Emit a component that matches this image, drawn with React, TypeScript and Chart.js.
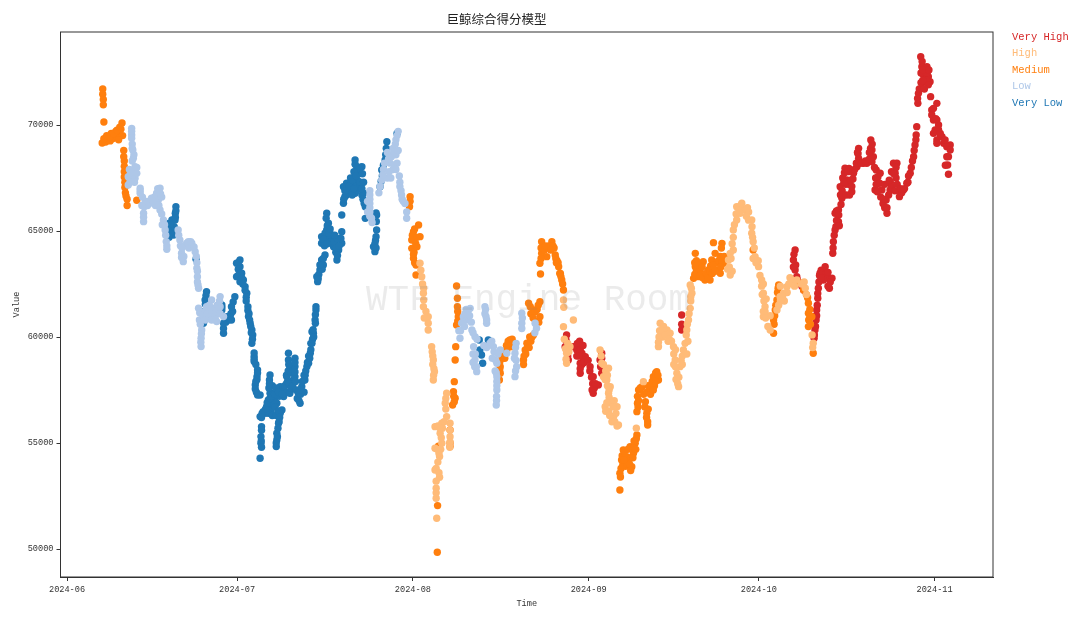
import React, { useEffect, useRef } from "react";
import { Chart, registerables } from "chart.js";

Chart.register(...registerables);

type P = [number, number];

// x = days since 2024-06-01, y = value
const monthTicks = [0, 30, 61, 92, 122, 153];
const monthLabels = ["2024-06", "2024-07", "2024-08", "2024-09", "2024-10", "2024-11"];
const valueTicks = [50000, 55000, 60000, 65000, 70000];
const legendNames = ["Very High", "High", "Medium", "Low", "Very Low"];
const chartTitle = "巨鲸综合得分模型";
const watermark = "WTF Engine Room";

const veryLow: P[] = [
  [19.2,66150],[19.1,65835],[19.05,65520],[18.5,65520],[17.9,65360],[17.6,65050],[18.5,65050],[18.8,64813],[18.2,64890],
  [18,64700],[18.9,65200],[19.1,65650],[18.2,65300],[19.2,65950],[17.8,65050],
  [22.75,63665],[24.6,62140],[24.35,61750],[24.05,60960],[24.05,60650],[27.3,61510],[27.3,61275],
  [24.5,61950],[24.4,61550],[24.2,61200],[24.1,60800],[27.3,61400],[28,60700],[27.6,60400],[28.9,61100],[29.3,61650],[29.2,61200],[28.5,60800],
  [28.75,60960],[28.2,60962],[27.6,60650],[27.6,60175],[29,60800],[29,61430],[29.6,61900],
  [30.5,63634],[29.9,63477],[30.5,63320],[29.9,62848],[30.8,63005],[31.1,62690],[30.5,62612],[31.4,62376],[31.7,62062],[31.6,61873],
  [30.2,63500],[30.2,63200],[30.5,63000],[30.2,62900],[30.8,62800],[31,62500],[31.4,62200],[31.6,61700],
  [31.9,61433],[32,60962],[32.3,60647],[32.6,60333],[32.75,60097],[32.6,59704],
  [31.9,61250],[32.1,61100],[32.2,60800],[32.4,60500],[32.5,60200],[32.7,59900],
  [33,59075],[33,58839],[33.6,58446],[33.5,58132],[33.2,57739],[33.6,57267],[34.05,57267],
  [33,59250],[33,58950],[33.3,58700],[33.6,58300],[33.5,58000],[33.3,57900],[33.2,57550],[33.4,57400],
  [34.05,56245],[34.6,56481],[35.2,56717],[35.5,57032],[35.8,57346],[35.7,57975],[35.8,58210],[36.4,57346],[37,57503],[37.6,57660],[38.2,57189],
  [37,56874],[36.4,56717],[34.9,56403],[37.9,56560],[37.6,56403],[37.3,55931],[37,55460],[37,55145],[36.9,54830],[34.3,55774],[34.2,55302],[34.2,54988],[34.05,54280],
  [36,56900],[36,56500],[36.6,57000],[37.4,57200],[35.5,56400],[38,57500],[38.7,57400],[36.2,57700],
  [34.4,56400],[34.3,56200],[35,56600],[35.3,56900],[35.8,57100],[35.6,57600],[35.7,57800],[36.1,57200],[36.6,57300],[36.8,57600],[37.3,57400],[37.9,57300],[36.7,56700],[36.2,56300],[36.9,56300],[37.3,56500],[37.5,56200],[37.4,56000],[37.2,55700],[37.1,55300],[36.9,55000],[34.3,55600],[34.25,55100],[34.3,54800],
  [38.75,57817],[38.75,58132],[39.05,59232],[39.05,58918],[39.3,58525],[40.2,58996],[40.2,58604],[40.2,58132],[39.3,57346],[39.9,57975],
  [38.4,57700],[38.9,57900],[38.7,58200],[39.2,57800],[39.5,57600],[39.8,57700],[39,58400],[39.1,58700],[39.6,58300],[40.2,58800],[40.2,58350],[40.3,57900],[40.4,57500],
  [41.1,56874],[40.8,57346],[41.4,57660],[41.95,57975],[42.3,58604],[42.6,58760],[42.9,59232],[43.2,59704],[43.45,60175],[43.2,60254],[43.75,60804],[43.9,61276],[43.9,61433],
  [40.6,57100],[41.2,57300],[41.8,57400],[42,58200],[42.6,59100],[43,59700],
  [40.9,57000],[41,57500],[41.5,57900],[41.8,58200],[42.1,58400],[42.4,58800],[42.8,59000],[43,59400],[43.3,59900],[43.5,60000],[43.4,60350],[43.8,61050],[43.8,60650],
  [44.2,62612],[44.05,62848],[44.6,63162],[44.9,63634],[45.5,63870],[45.2,63400],[44.4,62950],[44.3,62750],[44.8,63350],[45,63200],[44.6,63400],[45.2,63700],
  [45.8,65835],[46.1,65363],[45.8,65050],[44.9,64734],[44.9,64420],[45.8,64577],[46.7,64734],[47.3,64420],[47.6,63634],[47.9,64105],[48.45,64420],[48.45,64970],[46.4,64890],[47,64263],[46,64800],[47.4,64000],[48.45,65756],[46.5,64450],
  [45.7,65600],[45.9,65250],[45.5,64900],[45.2,64600],[45.4,64300],[46.2,64900],[46.6,64500],[47.1,64500],[47.5,64200],[47.7,63850],[48,64300],[48.3,64650],[46.4,65100],[45.9,64400],[47.7,64650],[47.2,64800],
  [50.8,68350],[51.1,68035],[50.8,67643],[51.7,67722],[52,67250],[52.3,66778],[50.5,67407],[49.3,67250],[48.75,67092],[49,66621],[49.9,66778],[50.8,66778],[51.4,67092],[48.75,66306],[52,68035],[52.6,66149],[52.6,65596],[49.9,67171],
  [50,67500],[49.5,66900],[50.4,67000],[51.2,67400],[51.6,67000],[52,66700],[51.7,68000],[51,66900],
  [50.8,68150],[51.5,67900],[50.6,67800],[51,67600],[50.2,67300],[49.7,67100],[49.3,66700],[49,66900],[50.3,66700],[51,67100],[51.7,67300],[52,67000],[52.2,66500],[52.4,66300],[48.8,66500],[52.1,67700],[52.3,67300],[50.6,67000],
  [54.6,65756],[54.6,65050],[54.5,64734],[54.05,64263],[54.3,64027],[56.4,69215],[56.1,68350],[55.5,67878],[55.2,67092],[58.2,69600],
  [54.55,65450],[54.5,65850],[54.4,64550],[54.3,64400],[54.5,64200],[56.3,68900],[56.2,68600],[55.8,68100],[55.6,67600],[55.4,67350],
  [72.7,59860],[74.3,59860],[72.8,59388],[73.3,58760],[73.1,59153],
];

const low: P[] = [
  [11.4,69843],[11.4,69530],[11.6,68822],[11.7,68430],[12,68036],[11.4,67800],[12.3,67720],[10.8,67564],[10.8,67170],[12,67485],[11.5,68300],[11.5,67500],[11,67900],
  [11.4,69700],[11.4,69380],[11.5,69100],[11.5,68900],[11.2,67700],[11.8,67800],[11.3,67400],[11.9,67300],[11.1,67300],[12.3,68000],[11.8,68600],
  [12.9,67014],[12.9,66778],[13.8,66385],[13.5,65835],[13.5,65442],[14.6,66306],[15.8,66778],[16.4,67014],[16.1,66464],[16.4,65992],[17,65520],[17.3,65050],[17.5,64500],[17.6,64137],
  [12.9,66900],[13.3,66600],[13.6,66150],[13.5,65650],[14.1,66400],[14.9,66550],[15.4,66600],[16,67000],[16.5,66750],[15.6,66200],[16.2,66200],[16.7,65800],[16.8,65300],[17.2,65300],[17.4,64800],[17.6,64300],
  [14.2,66200],[15.2,66400],[13.2,66200],[16.7,66600],[19.6,65050],[19.9,64577],[20.2,63948],[20.5,63555],[21.1,64420],[22,64420],[22.6,64027],[22.9,63241],[23,62848],[23.2,62298],[20.6,64300],[21.5,64200],
  [19.7,64800],[20,64300],[20.3,64200],[20.6,63800],[20.2,63750],[21.4,64500],[21.8,64500],[22.4,64250],[22.8,63800],[22.9,63500],[23,63100],[23,62600],[23.1,62450],
  [23.2,61354],[23.35,60804],[23.75,60333],[23.64,59940],[23.64,59547],[24.6,61433],[25.5,61748],[25.2,61276],[26.1,60962],[26.4,60726],[27,61905],[27,61433],[25.8,61354],[27.6,60962],[24,61000],[25,60900],[26.5,61500],
  [23.4,61150],[23.5,60600],[23.7,60150],[23.6,59750],[24.3,61200],[24.7,61100],[25.1,61500],[25.6,61200],[25.9,61000],[26.3,61200],[26.7,61300],[26.9,61700],[27,61100],[24.4,60800],[25.5,60800],[26.2,60800],
  [53.4,66900],[53.4,66500],[53.4,66100],[53.4,65700],[53.8,65400],[53,65900],[53,66400],[55,66800],[55.5,67400],[55.8,67900],[56.5,68700],[57,68200],[57.5,67900],[56.5,67500],[58,68600],[57.5,68900],[58,69300],[58.4,69700],[58.2,68200],[58.7,67300],[58.9,66900],[59.1,66500],[59.6,66300],[59.9,65900],[59.9,65600],
  [53.4,66700],[53.4,66300],[53.4,65900],[53.7,65600],[55.2,67100],[55.7,67650],[56,68200],[56.7,68400],[57.2,68500],[57.8,68100],[57.7,68700],[56.8,67800],[57.1,67500],[57.9,69100],[58.2,69500],[58.4,68800],[58,67900],[58.6,67600],[58.7,67100],[59,66700],[59.3,66400],
  [69.3,59940],[69.6,60646],[69.9,60960],[71.1,61353],[70.5,60803],[71.4,60332],[71.95,60017],[73.7,61432],[73.9,60960],[74,60646],[71.7,59545],[71.95,58917],[72.25,58367],[75.2,59545],[75.8,58760],[75.8,58131],[75.8,57502],[75.7,56795],
  [69.1,60300],[69.4,60300],[69.8,60700],[70.4,61300],[70.7,61200],[70.1,60500],[71,61000],[71.3,60700],[71.6,60200],[72.3,59900],[71.6,59200],[71.9,58600],[72.2,58600],[71.6,58800],[73.7,61100],[73.8,61300],[74,60800],[74.9,59800],[75.3,59300],[75.6,58900],[75.7,58300],[75.8,57900],[75.8,57700],[75.75,57200],[75.75,57000],
  [79,59231],[79.3,58602],[79,58131],[80.2,61118],[80.2,60646],[82.55,60646],[82.8,60410],[74.6,59703],[76.4,59388],[77.55,59231],[72,59200],[75,59000],[79.2,59700],[70.2,61100],[75.5,58400],
  [79.1,59500],[79.2,58900],[79.1,58400],[78.9,59000],[80.3,60900],[80.2,60400],[82.5,60200],[74,59500],[73.5,59600],[76,59200],
];

const high: P[] = [
  [62.25,63476],[62.55,62847],[62.85,62061],[62.85,61432],[63.7,60960],[63.7,60331],[64.3,59545],[64.6,58917],[64.8,58367],[64.6,57973],
  [62.4,63150],[62.7,62500],[62.9,62300],[62.9,61750],[63.3,61200],[63.7,60650],[63,60900],[64.4,59300],[64.5,59100],[64.5,58700],[64.7,58500],[64.65,58200],
  [66.95,57345],[66.7,56873],[66.95,56245],[66.1,55930],[64.9,55773],[65.8,55458],[66.1,54987],[65.7,54358],[64.9,54751],[64.9,53729],[65.7,53383],[65.1,52864],[65.1,52393],[65.2,51450],[67.55,55301],[67.55,55930],
  [66.8,57100],[66.8,56600],[66.5,56000],[66.2,55700],[65.4,55800],[65.8,55700],[66,55250],[65.9,54700],[65.6,54500],[65.3,54700],[65.4,54100],[65.1,53800],[65.6,53600],[65.1,53200],[65.1,52650],[67.55,55600],[67.55,55050],[67.5,54800],
  [87.55,60489],[89.3,60803],[87.55,61746],[88.1,59231],[88.1,58760],[88.7,59545],[87.6,61400],[88,58950],[87.9,59450],[88.3,59700],[88.5,59300],[87.7,59900],
  [94,59388],[94.3,58760],[95.5,58524],[95.2,57973],[95.5,57345],[96.1,56873],[94.9,56716],[96.4,56245],[97.25,55851],[97,56716],[94.6,58131],[95.8,57659],[95.5,56500],[96.5,57000],[100.4,55694],[101.65,57895],
  [94.2,59100],[94.6,58700],[95,58400],[95.3,58200],[94.9,58000],[95.3,57700],[95.6,57150],[95.9,56900],[95.6,57500],[95.2,56900],[95,56500],[95.7,56300],[96.1,56000],[96.6,56000],[97,55800],[96.8,56400],[96.3,56700],
  [104.6,60646],[104.3,59545],[105.8,60331],[106.35,60174],[106.95,59545],[107.25,58917],[107.55,58288],[107.85,57659],[108.1,58602],[108.7,59388],[109.3,60331],[109.6,60803],[109.9,61353],[110.2,62061],[109.9,62454],[105,60000],[106,59800],[107.3,59400],
  [104.5,60300],[104.4,60000],[104.3,59750],[105.2,60500],[105,60300],[105.5,60100],[106.2,59900],[106.6,59800],[107,59200],[107,58700],[107.3,58600],[107.4,58000],[107.7,57800],[107.9,58100],[108.3,58900],[108.5,59100],[109,59700],[109.2,60100],[109.4,60600],[109.7,61100],[110,61700],[110,61900],[110.1,62300],[108.5,58700],[109.5,59800],[109.3,59200],
  [116.95,62925],[116.65,63633],[117.5,65048],[117.5,64104],[118.1,66148],[118.1,65519],[116.95,63947],[118.8,66200],[119.5,66000],[120.2,65900],
  [116.8,63300],[117.1,63700],[117.3,64400],[117.5,64700],[117.7,65300],[118,65800],[117.3,63100],[116.5,63200],[118.5,66000],[119.8,65700],[120,66100],
  [119,66306],[118.7,65835],[120.2,65513],[120.75,65520],[120.75,64891],[121,64498],[121.35,63791],[121.95,63319],[122.5,62690],[122.8,62062],[123.1,61433],[122.8,60961],[124,60333],[126.35,62062],[126.95,62376],[125.75,61904],[127.8,62690],[128.7,62690],[130.2,62298],[131.6,59704],[125.2,61276],
  [121.5,63500],[122.8,62500],[123.3,61800],[126.5,61700],[127,62100],[125.8,62400],[124,61000],
  [120.8,65200],[120.9,64700],[121.2,64200],[121,63700],[121.9,63600],[122.2,62900],[122.5,62400],[122.6,62000],[122.9,61700],[123.1,61200],[122.8,61200],[123.2,60900],[123.6,60500],[125.8,61700],[126.2,61900],[127.3,62500],[127.5,62800],[128.3,62400],[129.5,62500],[130,62600],[130.4,62000],[131.4,60100],[131.5,59500],[125.5,61500],
];

const medium: P[] = [
  [6.3,71700],[6.3,71450],[6.4,71200],[6.4,70950],[6.5,70140],[6.2,69150],[6.8,69200],[7.2,69300],[7.6,69250],[8,69350],[8.4,69400],[8.8,69450],[9.2,69500],[9.5,69800],[9.7,70100],[9.8,69500],[8.6,69700],[7.8,69600],
  [6.5,69350],[7,69500],[7.5,69450],[8.2,69600],[8.8,69750],[9.3,69900],[9.1,69300],
  [10,68800],[10.1,68300],[10.1,67800],[10.2,67300],[10.3,66800],[10.6,66500],[10.6,66200],[12.3,66450],[10,68500],[10.1,68050],[10.1,67550],[10.2,67050],[10.4,66650],
  [60.5,66620],[60.4,66148],[62,65283],[61.1,64969],[60.8,64576],[62.25,64733],[60.8,64183],[61.7,64262],[61.1,63711],[61.55,63397],[61.55,62925],
  [60.5,66400],[61.3,65100],[60.9,64800],[61.5,64400],[61.2,64000],[61.1,63900],[61.7,64700],[61.3,63500],
  [68.7,62407],[68.85,61825],[68.85,61432],[69,60960],[68.7,60567],[68.55,59545],[68.45,58917],[68.3,57895],[68.15,57423],[68.45,57109],[68,56795],[67.55,55615],[67.55,54830],[65.3,49846],[65.35,52047],[65.5,54850],
  [68.9,61200],[68.9,60750],[68.2,57200],[68.3,56950],[67.55,55000],
  [76.4,58602],[76.25,57973],[76.7,58995],[77.55,59388],[78.1,59860],[78.7,59546],[76.4,58288],[78.1,59546],
  [76.3,58800],[76.3,58450],[76.8,59200],[77.1,59300],[77.5,59600],[77.8,59800],[78.4,59700],[78.5,59900],[77.2,59000],
  [80.5,58917],[80.8,59388],[81.1,59703],[82.25,60096],[81.7,61432],[82.25,61275],[83.4,60960],[82.8,60725],[83.4,61668],[81.4,61589],[81.6,60000],
  [80.5,58700],[80.6,59100],[80.9,59200],[81.2,59500],[81.5,59500],[81.8,59800],[82,60000],[81.8,61100],[82.6,61200],[82.9,61300],[83.2,60700],[82.2,60900],[83.1,61500],
  [83.7,64497],[83.7,63947],[83.4,63476],[83.5,62973],[84.6,63790],[85.5,64497],[86.1,63870],[86.7,63318],[87.25,62690],[87.55,62218],[85.9,64200],[85,64300],[86.4,63600],[87,63000],
  [83.6,64200],[83.6,63700],[84.2,64100],[84.4,64300],[85.7,64300],[86.2,63700],[86.3,63500],[86.6,63500],[86.9,63000],[87.1,62850],[87.4,62500],[85.3,64100],
  [97.5,52786],[97.5,53572],[97.8,54200],[98.1,54672],[98.7,54358],[99.3,54830],[99.6,53886],[99.9,54515],[100.5,55380],[100.2,54987],[99,54043],[98.5,53900],[99.2,54300],
  [97.6,53400],[97.7,53800],[98,53950],[97.9,54400],[98.3,54600],[98.5,54300],[98.8,54000],[99.2,54000],[99.4,53700],[99.5,54300],[99.8,54300],[99.9,54750],[100.3,54700],[100.4,55200],[100,55100],[98.9,54700],[98.2,54200],
  [100.8,57502],[100.6,56873],[100.5,56480],[101.4,57659],[102,56952],[102.25,56402],[102.4,55851],[102.8,57659],[103.4,58131],[104,58367],[104.3,57973],[103.1,57502],
  [100.6,57200],[100.7,56700],[100.8,57000],[101.1,57600],[101.7,57300],[102.2,57400],[101.9,56700],[102.2,56200],[102.5,56600],[102.4,56000],[102.5,57700],[102.9,57300],[103.2,57900],[103.6,57700],[103.8,58300],[104.2,58200],[103.8,57900],[103.4,57500],
  [110.8,63947],[110.8,63318],[110.5,62768],[111.35,62847],[112.2,63554],[112.5,62690],[113.4,62690],[113.7,63633],[114.3,63947],[114,64450],[114.9,63161],[115.5,64419],[115.8,63476],[115.2,63004],[111.65,63161],[113.1,63161],[111,63600],[114.6,63500],
  [110.7,63500],[111,63100],[110.7,62950],[111.2,63400],[111.7,62900],[112,63300],[112.1,62800],[112.7,63000],[113,62800],[113.4,63100],[113.5,63350],[113.8,63000],[114,63400],[114.3,63100],[114.9,63600],[115.2,63800],[115.4,64200],[115.5,63500],[115.9,63800],[115.3,63300],
  [121,64105],[125.5,62455],[125.2,61747],[124.9,61276],[124.6,60804],[124.6,60175],[130.75,61590],[130.75,61118],[130.75,60490],[129.9,62219],[129.3,62533],[131.35,60961],[131.6,59232],
  [124.7,60600],[124.8,61000],[125,61500],[125.3,62100],[125.4,62300],[130.6,61850],[130.4,62000],[130.8,60800],[131,61300],[131.1,60600],[131,61000],
];

const veryHigh: P[] = [
  [88.1,60096],[87.85,59545],[88.4,58917],[90.2,59545],[90.8,59231],[91.4,59074],[90.5,58760],[90.5,58288],[92.25,58602],[92.8,58131],[92.8,57345],[93.7,57738],[94.3,59231],[94,58917],[94.3,58288],[108.4,61039],[108.4,60332],[89.9,59388],[91.1,58917],[89.3,59545],[90.4,59800],
  [88,59850],[88.2,59300],[88.3,59100],[90,59700],[90.5,59400],[91,59600],[89.9,59100],[90.3,59100],[90.8,58700],[91.2,58800],[91.9,58900],[90.5,58500],[92.2,58400],[92.5,58100],[92.7,57800],[92.6,57500],[93,57600],[93.2,57800],[94.3,59000],[94.1,58600],[108.4,60600],
  [128.4,64105],[128.1,63634],[128.4,63162],[128.7,62848],[129.3,62533],[129.9,62219],[132.2,61276],[132.1,60804],[131.9,60333],[131.75,59939],[132.4,61826],[132.5,62298],[132.8,63005],[133.7,63319],[134.3,62769],[134.9,62769],[134.45,62298],[133.4,62691],
  [128.2,63900],[128.5,63400],[128.1,63300],[128.8,62700],[129.6,62400],[132.2,61000],[132.1,61000],[132,60500],[131.8,60100],[132.3,61500],[132.4,62050],[132.6,62600],[132.7,62900],[133,63150],[133.3,63000],[133.9,63000],[134.2,63050],[134.6,62600],[134.2,62400],[133,62800],
  [135.05,63948],[135.15,64498],[135.45,65048],[136.05,65442],[136.05,65992],[135.45,65835],[136.65,66542],[136.35,67092],[137.2,67957],[137.5,67407],[138.4,66856],[138.7,67721],[139.3,68035],[139.6,68900],[139.6,68428],[140.45,68193],[141.05,68193],[141.75,69293],[141.95,68821],[141.95,68271],
  [135.1,64200],[135.3,64800],[135.6,65200],[135.7,65500],[135.7,65950],[136.1,65750],[136.2,65250],[136.5,66250],[136.7,66900],[136.4,66700],[136.8,67500],[137.1,67750],[137.3,67200],[137.9,67200],[138.4,67100],[138.6,67450],[138.9,67900],[137.9,67950],[139.2,68200],[139.5,68650],[139.7,68200],[140.1,68200],[139.4,68700],[140.8,68300],[141.5,68400],[141.7,68900],[142,69100],[142.2,68500],[141.5,68700],
  [142.7,67878],[142.5,66935],[143.4,67721],[143.7,66935],[144.6,65835],[144.45,66463],[145.15,66935],[145.75,68193],[146.35,68193],[146.05,67721],[146.8,66620],[147.5,66935],[148.1,67250],[148.7,67721],[149.3,68507],[149.55,69057],[149.85,69922],[149.75,69529],
  [142.4,68000],[142.6,67500],[142.7,67200],[143,67550],[143.3,67250],[142.9,66850],[143.5,66600],[143.9,66300],[144.2,66100],[144.6,66100],[144.9,66700],[145.2,67300],[145.4,67800],[145.8,67700],[146.2,67500],[146.2,68000],[145.4,67100],[146.4,67200],[146.8,66900],[147.2,66800],[147.7,67000],[148.3,67300],[148.4,67600],[148.9,68000],[149.1,68300],[149.4,68800],[149.7,69300],
  [150.05,71022],[150.15,71494],[150.75,71965],[150.55,73223],[150.75,72751],[151.65,72751],[151.9,72280],[151.05,72358],[152.2,72044],[152.3,71337],[153.4,71022],[152.5,70708],[152.8,70236],[153.1,69765],[153.4,69293],[154.3,69450],[154.6,69136],[155.75,69057],[155.45,68507],[155.3,68114],[155.45,67674],
  [150,71250],[150.3,71700],[150.6,72000],[150.6,72450],[150.8,73000],[151.4,72500],[151.7,72450],[151.2,72100],[151.6,72100],[150.9,72600],[151.9,71900],[152,72600],
  [152.8,70786],[152.5,70472],[153.4,70236],[153.7,69765],[152.8,69607],[154,69529],[154.85,69293],[153.4,69136],[155.15,68978],[155.75,68821],[155.15,68500],[154.9,68100],
  [137,67300],[137.7,67800],[138.2,67400],[138,66700],[137.4,66700],[143,66900],[144,66500],[144.2,67200],[145,67400],[146,66900],[147,67000],[153.7,70000],[154,69600],[153.2,70300],[151.2,71700],[150.9,72100],
];

const seriesInDrawOrder: { name: string; color: string; points: P[] }[] = [
  { name: "Low", color: "#aec7e8", points: low },
  { name: "High", color: "#ffbb78", points: high },
  { name: "Very Low", color: "#1f77b4", points: veryLow },
  { name: "Medium", color: "#ff7f0e", points: medium },
  { name: "Very High", color: "#d62728", points: veryHigh },
];
const legendColors = ["#d62728", "#ffbb78", "#ff7f0e", "#aec7e8", "#1f77b4"];

const MONO = "'Liberation Mono', 'Noto Sans CJK SC', monospace";
const INK = "#333333";

export default function App() {
  const ref = useRef<HTMLCanvasElement>(null);
  useEffect(() => {
    const frame = {
      id: "frame",
      afterDraw(c: any) {
        const a = c.chartArea;
        c.ctx.save();
        c.ctx.strokeStyle = INK;
        c.ctx.lineWidth = 1;
        c.ctx.strokeRect(a.left, a.top, a.right - a.left, a.bottom - a.top);
        c.ctx.restore();
      },
    };
    const chart = new Chart(ref.current!, {
      type: "scatter",
      data: {
        datasets: seriesInDrawOrder.map((s) => ({
          label: s.name,
          data: s.points.map(([x, y]) => ({ x, y })),
          backgroundColor: s.color,
          borderColor: s.color,
          pointRadius: 3.7,
          pointBorderWidth: 0,
          pointHoverRadius: 3.7,
        })),
      },
      options: {
        animation: false,
        responsive: false,
        devicePixelRatio: 1,
        layout: { padding: { top: 0, right: 97, bottom: 0, left: 0 } },
        plugins: {
          legend: { display: false },
          tooltip: { enabled: false },
          title: {
            display: true,
            text: chartTitle,
            color: "#222",
            font: { family: MONO, size: 12.5, weight: "normal" },
            padding: { top: 13, bottom: 4 },
          },
        },
        scales: {
          x: {
            type: "linear",
            min: -1.15,
            max: 163.3,
            afterBuildTicks: (s: any) => {
              s.ticks = monthTicks.map((value) => ({ value }));
            },
            afterFit: (s: any) => {
              s.height = 42;
            },
            grid: { drawOnChartArea: false, drawTicks: true, tickLength: 4, color: INK },
            border: { color: INK },
            ticks: {
              color: INK,
              maxRotation: 0,
              font: { family: MONO, size: 8.6 },
              padding: 4,
              callback: (v: any) => monthLabels[monthTicks.indexOf(Number(v))] ?? "",
            },
            title: { display: true, text: "Time", color: INK, font: { family: MONO, size: 8.6 }, padding: { top: 2, bottom: 10 } },
          },
          y: {
            type: "linear",
            min: 48680,
            max: 74387,
            afterBuildTicks: (s: any) => {
              s.ticks = valueTicks.map((value) => ({ value }));
            },
            afterFit: (s: any) => {
              s.width = 60.5;
            },
            grid: { drawOnChartArea: false, drawTicks: true, tickLength: 4, color: INK },
            border: { color: INK },
            ticks: { color: INK, font: { family: MONO, size: 8.6 }, padding: 3, callback: (v: any) => String(v) },
            title: { display: true, text: "Value", color: INK, font: { family: MONO, size: 8.6 }, padding: { top: 12, bottom: 0 } },
          },
        },
      },
      plugins: [frame],
    } as any);
    return () => chart.destroy();
  }, []);

  return (
    <div style={{ position: "absolute", left: 0, top: 0, width: 1090, height: 619, background: "#fff", overflow: "hidden" }}>
      <canvas ref={ref} width={1090} height={619} style={{ display: "block" }} />
      <div
        style={{
          position: "absolute",
          left: 366,
          top: 281,
          fontFamily: MONO,
          fontSize: 36,
          lineHeight: "40px",
          color: "rgba(128,128,128,0.16)",
          whiteSpace: "pre",
        }}
      >
        {watermark}
      </div>
      {legendNames.map((name, i) => (
        <div
          key={name}
          style={{
            position: "absolute",
            left: 1012,
            top: 30 + i * 16.4,
            fontFamily: MONO,
            fontSize: 10.5,
            lineHeight: "14px",
            color: legendColors[i],
            whiteSpace: "pre",
          }}
        >
          {name}
        </div>
      ))}
    </div>
  );
}
